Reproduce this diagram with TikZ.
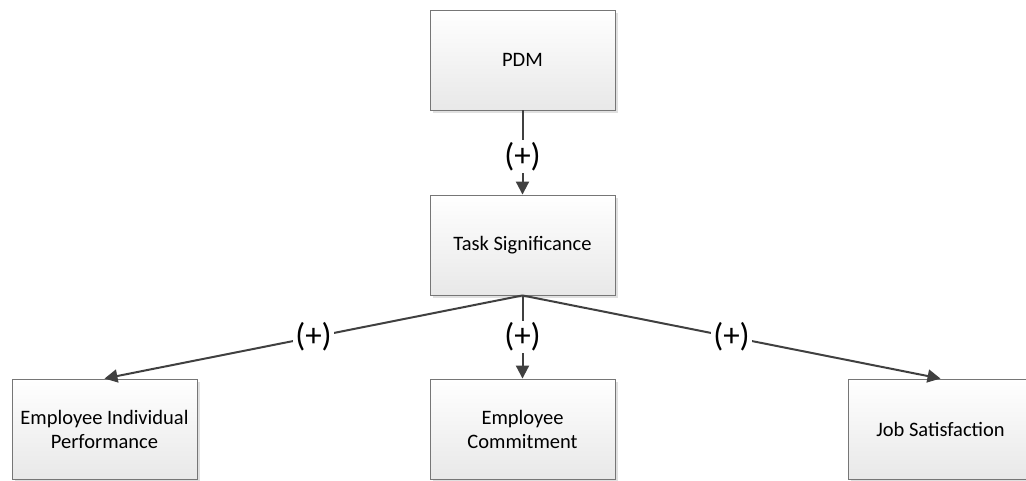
\documentclass[tikz,border=0pt]{standalone}
\usepackage{fontspec}
\setmainfont{Carlito}
\usetikzlibrary{arrows.meta,shadows}
\definecolor{edge}{RGB}{64,64,64}
\definecolor{frame}{RGB}{118,118,118}
\tikzset{
  box/.style={draw=frame, line width=0.9pt, minimum width=185pt, minimum height=100pt,
    top color=white, bottom color=black!9, align=center,
    font=\fontsize{20.5}{24}\selectfont,
    drop shadow={shadow xshift=3pt, shadow yshift=-3pt, fill=black, opacity=0.12}},
  conn/.style={draw=edge, line width=2pt, -{Triangle[length=13pt,width=13pt]}},
  lbl/.style={fill=white, inner sep=2pt, font=\fontsize{33}{36}\selectfont, text=black}
}
\begin{document}
\begin{tikzpicture}[x=1pt, y=-1pt]
  \useasboundingbox (0,0) rectangle (1026,480);
  \clip (0,0) rectangle (1026,480);
  % boxes
  \node[box] (pdm) at (522.5,60) {PDM};
  \node[box] (ts)  at (522.5,245) {Task Significance};
  \node[box] (eip) at (104.5,429) {Employee Individual\\Performance};
  \node[box] (ec)  at (522.5,429) {Employee\\Commitment};
  \node[box] (js)  at (940.5,429) {Job Satisfaction};
  % connectors
  \draw[conn] (pdm.south) -- node[lbl, pos=0.55] {(+)} (ts.north);
  \draw[conn] (ts.south) -- node[lbl] {(+)} (eip.north);
  \draw[conn] (ts.south) -- node[lbl] {(+)} (ec.north);
  \draw[conn] (ts.south) -- node[lbl] {(+)} (js.north);
\end{tikzpicture}
\end{document}
